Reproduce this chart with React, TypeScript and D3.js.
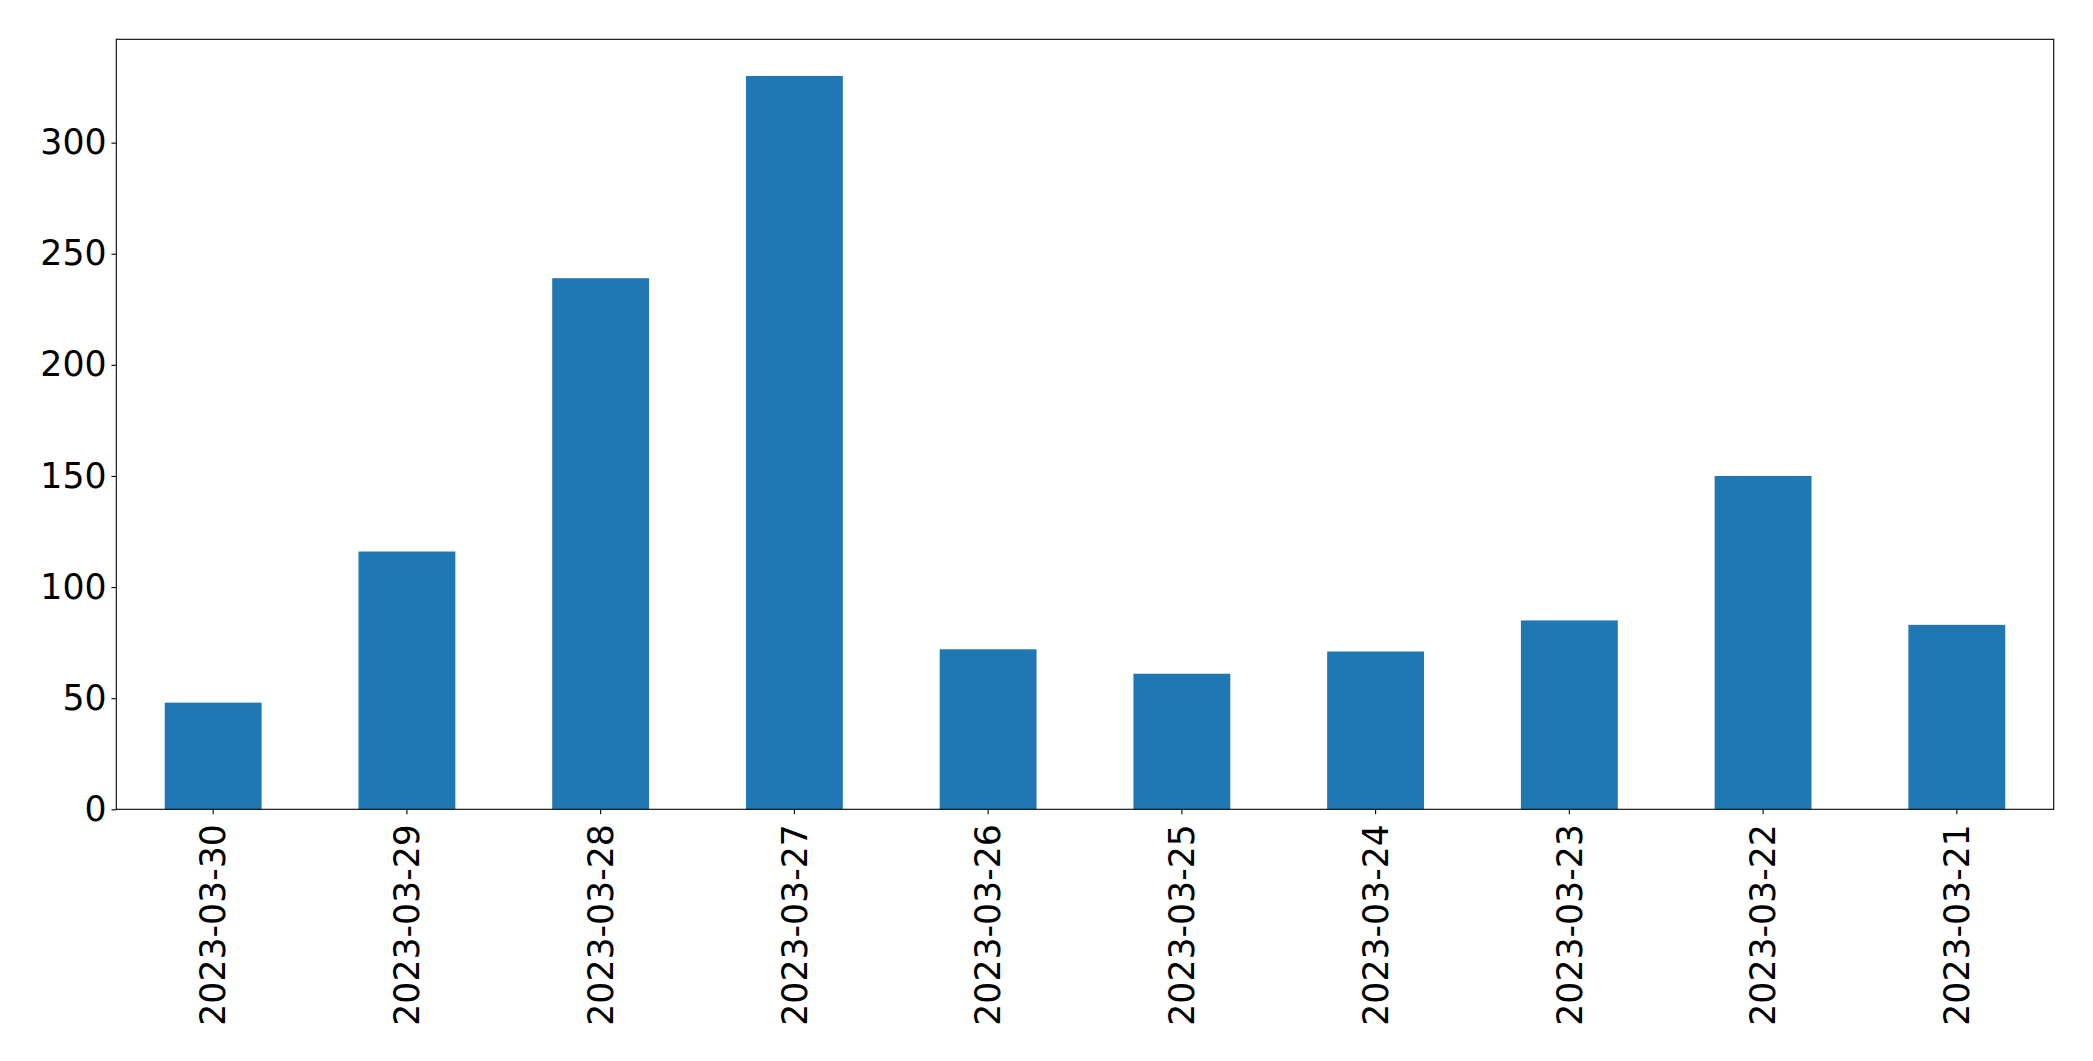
import { useEffect, useRef } from 'react';
import * as d3 from 'd3';

const dates = [
  '2023-03-30', '2023-03-29', '2023-03-28', '2023-03-27', '2023-03-26',
  '2023-03-25', '2023-03-24', '2023-03-23', '2023-03-22', '2023-03-21',
];
const counts = [48, 116, 239, 330, 72, 61, 71, 85, 150, 83];
const yTicks = [0, 50, 100, 150, 200, 250, 300];

const W = 2093;
const H = 1061;

export default function App() {
  const svgRef = useRef<SVGSVGElement>(null);

  useEffect(() => {
    if (!svgRef.current) return;
    const margin = { top: 39.3, right: W - 2053.7, bottom: H - 809.3, left: 116.3 };
    const width = W - margin.left - margin.right;
    const height = H - margin.top - margin.bottom;
    const font = 'DejaVu Sans, sans-serif';
    const fontSize = 34.7;
    const tick = 4.86;

    const svg = d3.select(svgRef.current);
    svg.selectAll('*').remove();

    const g = svg.append('g').attr('transform', `translate(${margin.left},${margin.top})`);

    // x: 10 bars with pandas-like 0.5 width
    const x = d3.scaleBand<string>().domain(dates).range([0, width]).paddingInner(0.5).paddingOuter(0.25);

    const yMax = d3.max(counts)! * 1.05;
    const y = d3.scaleLinear().domain([0, yMax]).range([height, 0]);

    g.selectAll('.bar')
      .data(counts)
      .enter()
      .append('rect')
      .attr('class', 'bar')
      .attr('x', (_, i) => x(dates[i])!)
      .attr('y', d => y(d))
      .attr('width', x.bandwidth())
      .attr('height', d => height - y(d))
      .attr('fill', '#1f77b4');

    // 坐标框
    g.append('rect')
      .attr('width', width)
      .attr('height', height)
      .attr('fill', 'none')
      .attr('stroke', '#000')
      .attr('stroke-width', 1.1);

    // y 轴
    const yAxis = g.append('g')
      .call(d3.axisLeft(y).tickValues(yTicks).tickSize(tick).tickPadding(4.86).tickFormat(d3.format('d')));
    yAxis.select('.domain').remove();
    yAxis.selectAll('line').attr('stroke', '#000').attr('stroke-width', 1.1);
    yAxis.selectAll('text')
      .attr('fill', '#000')
      .style('font-family', font)
      .style('font-size', `${fontSize}px`);

    // x 轴
    const xAxis = g.append('g')
      .attr('transform', `translate(0,${height})`)
      .call(d3.axisBottom(x).tickSize(tick).tickPadding(0));
    xAxis.select('.domain').remove();
    xAxis.selectAll('line').attr('stroke', '#000').attr('stroke-width', 1.1);
    xAxis.selectAll('text')
      .attr('fill', '#000')
      .attr('y', 0)
      .attr('dy', '0.35em')
      .attr('transform', `translate(0,${tick + 10}) rotate(-90)`)
      .attr('text-anchor', 'end')
      .style('font-family', font)
      .style('font-size', `${fontSize}px`);
  }, []);

  return (
    <svg
      ref={svgRef}
      width={W}
      height={H}
      style={{ position: 'absolute', left: 0, top: 0, background: '#fff' }}
    />
  );
}
